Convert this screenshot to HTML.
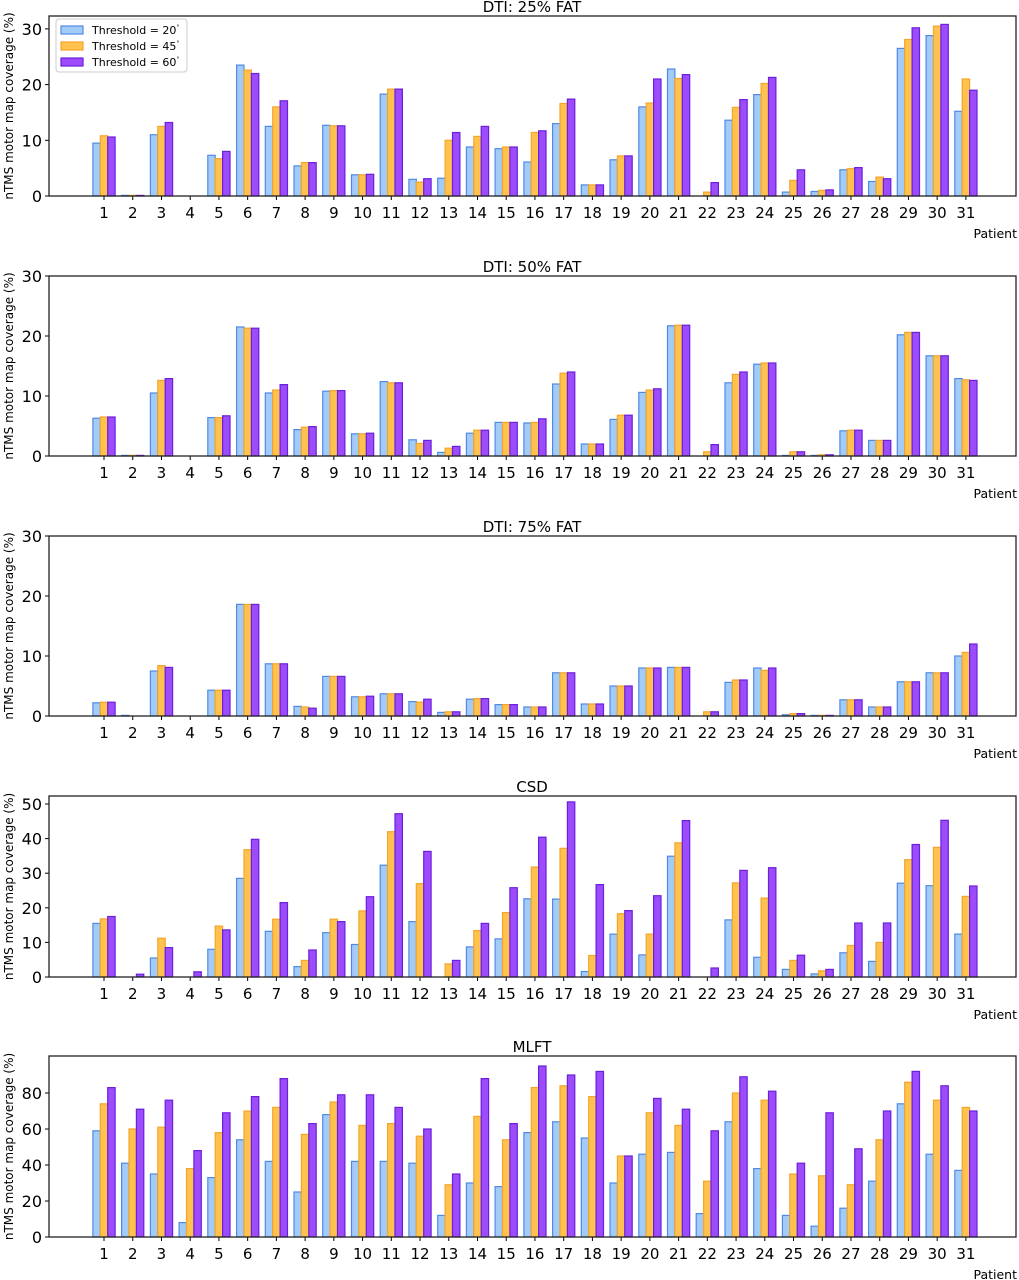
<!DOCTYPE html><html><head><meta charset="utf-8"><style>body{margin:0;background:#fff}svg{display:block;font-family:"DejaVu Sans","Liberation Sans",sans-serif}</style></head><body>
<svg id="s" width="1019" height="1280" xmlns="http://www.w3.org/2000/svg"></svg>
<script>
const P=[
{t:"DTI: 25% FAT",top:16,bot:196,ppu:5.57,ticks:[0,10,20,30],d:[[9.5,10.8,10.6],[.1,.1,.1],[11,12.5,13.2],[0,0,0],[7.3,6.7,8],[23.5,22.6,22],[12.5,16,17.1],[5.4,6,6],[12.7,12.6,12.6],[3.8,3.8,3.9],[18.3,19.2,19.2],[3,2.5,3.1],[3.2,10,11.4],[8.8,10.7,12.5],[8.5,8.8,8.8],[6.1,11.4,11.7],[13,16.6,17.4],[2,2,2],[6.5,7.2,7.2],[16,16.7,21],[22.8,21.1,21.8],[0,.7,2.4],[13.6,15.9,17.3],[18.2,20.2,21.3],[.7,2.8,4.7],[.8,1,1.1],[4.7,4.9,5.1],[2.6,3.4,3.1],[26.5,28.1,30.2],[28.8,30.5,30.8],[15.2,21,19]]},
{t:"DTI: 50% FAT",top:276,bot:456,ppu:6,ticks:[0,10,20,30],d:[[6.3,6.5,6.5],[.1,.1,.1],[10.5,12.6,12.9],[0,0,0],[6.4,6.4,6.7],[21.5,21.3,21.3],[10.5,11,11.9],[4.4,4.8,4.9],[10.8,10.9,10.9],[3.7,3.7,3.8],[12.4,12.2,12.2],[2.7,2.1,2.6],[.6,1.3,1.6],[3.8,4.3,4.3],[5.6,5.6,5.6],[5.5,5.6,6.2],[12,13.8,14],[2,2,2],[6.1,6.8,6.8],[10.6,11,11.2],[21.7,21.8,21.8],[0,.7,1.9],[12.2,13.6,14],[15.3,15.5,15.5],[.1,.7,.7],[.1,.2,.2],[4.2,4.3,4.3],[2.6,2.6,2.6],[20.2,20.6,20.6],[16.7,16.7,16.7],[12.9,12.7,12.6]]},
{t:"DTI: 75% FAT",top:536,bot:716,ppu:6,ticks:[0,10,20,30],d:[[2.2,2.3,2.3],[.1,0,0],[7.5,8.4,8.1],[0,0,0],[4.3,4.3,4.3],[18.6,18.6,18.6],[8.7,8.7,8.7],[1.6,1.5,1.3],[6.6,6.6,6.6],[3.2,3.2,3.3],[3.7,3.7,3.7],[2.4,2.3,2.8],[.6,.7,.7],[2.8,2.9,2.9],[1.9,1.9,1.9],[1.5,1.5,1.5],[7.2,7.2,7.2],[2,2,2],[5,5,5],[8,8,8],[8.1,8.1,8.1],[0,.7,.7],[5.6,6,6],[8,7.6,8],[.2,.4,.4],[.1,.1,.1],[2.7,2.7,2.7],[1.5,1.5,1.5],[5.7,5.7,5.7],[7.2,7.2,7.2],[10,10.6,12]]},
{t:"CSD",top:796,bot:977,ppu:3.46,ticks:[0,10,20,30,40,50],d:[[15.5,16.8,17.5],[0,0,.8],[5.5,11.2,8.5],[0,0,1.5],[8,14.7,13.6],[28.5,36.8,39.8],[13.2,16.7,21.5],[3,4.8,7.8],[12.8,16.7,16],[9.4,19.1,23.2],[32.3,42,47.2],[16,27,36.3],[0,3.8,4.8],[8.7,13.4,15.5],[11,18.6,25.8],[22.6,31.8,40.4],[22.5,37.2,50.6],[1.6,6.2,26.7],[12.4,18.3,19.2],[6.4,12.4,23.5],[34.9,38.8,45.2],[0,0,2.6],[16.5,27.2,30.8],[5.7,22.8,31.6],[2.2,4.8,6.3],[.9,1.8,2.2],[7,9.1,15.6],[4.5,10,15.6],[27.1,33.9,38.3],[26.4,37.5,45.3],[12.4,23.3,26.3]]},
{t:"MLFT",top:1056,bot:1237,ppu:1.8,ticks:[0,20,40,60,80],d:[[59,74,83],[41,60,71],[35,61,76],[8,38,48],[33,58,69],[54,70,78],[42,72,88],[25,57,63],[68,75,79],[42,62,79],[42,63,72],[41,56,60],[12,29,35],[30,67,88],[28,54,63],[58,83,95],[64,84,90],[55,78,92],[30,45,45],[46,69,77],[47,62,71],[13,31,59],[64,80,89],[38,76,81],[12,35,41],[6,34,69],[16,29,49],[31,54,70],[74,86,92],[46,76,84],[37,72,70]]}];
const F=["#a3cbf7","#ffc24f","#9c4cfb"],E=["#4f8ae6","#f4a52a","#6b20dc"];
let h="";const L=49,R=1016,x0=104,dx=28.73,w=7.4;
P.forEach(p=>{
 h+=`<text x="532" y="${p.top-4}" font-size="15" text-anchor="middle">${p.t}</text>`;
 p.d.forEach((v,i)=>{const c=x0+i*dx;v.forEach((y,j)=>{const hh=y*p.ppu;if(hh<=0)return;const bx=c+(j-1)*w-w/2;h+=`<rect x="${bx.toFixed(1)}" y="${(p.bot-hh).toFixed(1)}" width="${w}" height="${hh.toFixed(1)}" fill="${F[j]}" stroke="${E[j]}" stroke-width="1.2"/>`;});
  h+=`<line x1="${c}" y1="${p.bot}" x2="${c}" y2="${p.bot+4}" stroke="#000"/><text x="${c}" y="${p.bot+22}" font-size="15" text-anchor="middle">${i+1}</text>`;});
 p.ticks.forEach(t=>{const y=p.bot-t*p.ppu;h+=`<line x1="${L-4}" y1="${y}" x2="${L}" y2="${y}" stroke="#000"/><text x="${L-7}" y="${y+6}" font-size="16" text-anchor="end">${t}</text>`;});
 h+=`<rect x="${L}" y="${p.top}" width="${R-L}" height="${p.bot-p.top}" fill="none" stroke="#222" stroke-width="1.3"/>`;
 h+=`<text x="1017" y="${p.bot+42}" font-size="12.5" text-anchor="end">Patient</text>`;
 const cy=(p.top+p.bot)/2;h+=`<text transform="translate(13,${cy}) rotate(-90)" font-size="12" text-anchor="middle">nTMS motor map coverage (%)</text>`;
});
h+=`<rect x="56" y="19" width="131" height="53" rx="3" fill="#fff" stroke="#ccc"/>`;
["20","45","60"].forEach((t,j)=>{const y=26+j*16;h+=`<rect x="61" y="${y}" width="22" height="8" fill="${F[j]}" stroke="${E[j]}" stroke-width="1.2"/><text x="92" y="${y+8}" font-size="11">Threshold = ${t}<tspan font-size="6" dy="-5">°</tspan></text>`;});
document.getElementById("s").innerHTML=h;
</script></body></html>
